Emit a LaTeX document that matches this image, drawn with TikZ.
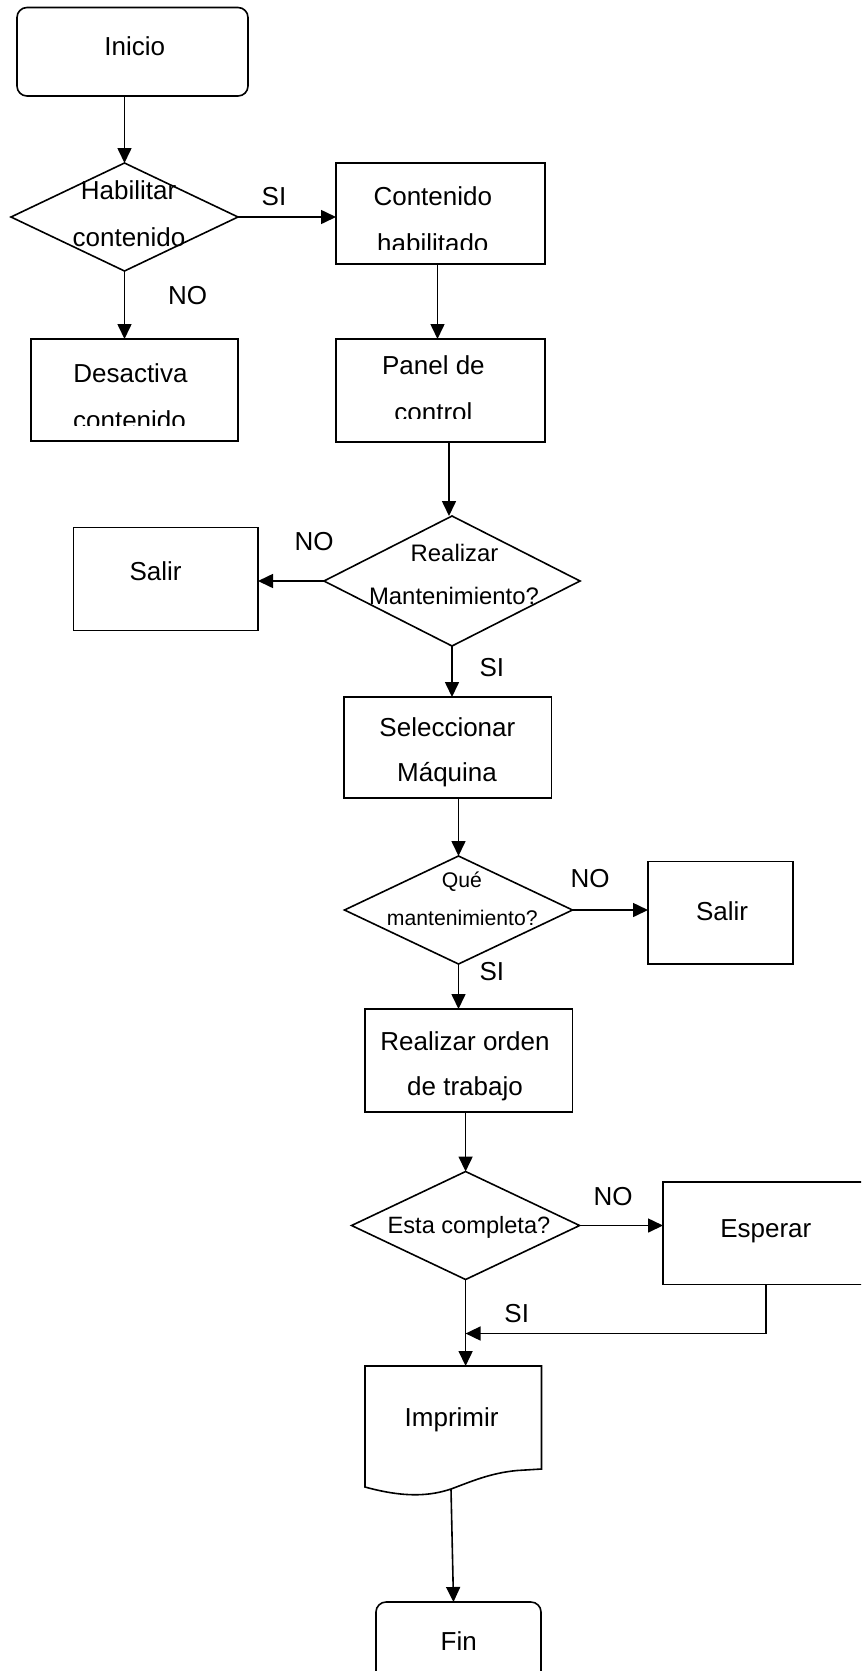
\documentclass[tikz,border=0pt]{standalone}
\usepackage{fontspec}
\setmainfont{Liberation Sans}
\usetikzlibrary{arrows.meta,shapes.geometric,calc}
\newdimen\px \px=0.75pt
\begin{document}
\begin{tikzpicture}[x=0.75pt,y=-0.75pt,
  flow/.style={line width=1.2pt, draw=black},
  arr/.style={flow, -{Triangle[length=11.25pt,width=10.5pt]}},
  proc/.style={draw, line width=1.2pt, rectangle, inner sep=0pt, outer sep=0pt},
  term/.style={proc, rounded corners=7.5pt},
  decis/.style={draw, line width=1.2pt, diamond, inner sep=0pt, outer sep=0pt},
  txt/.style={anchor=base, inner sep=0pt, font=\fontsize{19.5pt}{23pt}\selectfont},
  txtb/.style={txt, font=\fontsize{17.9pt}{21pt}\selectfont},
  txtc/.style={txt, font=\fontsize{15.9pt}{19pt}\selectfont},
  txtd/.style={txt, font=\fontsize{17.7pt}{21pt}\selectfont},
]
\useasboundingbox (0,0) rectangle (861,1671);
\clip (0,0) rectangle (861,1671);

% ---- shapes ----
\node[term, minimum width=231\px, minimum height=88.5\px] (inicio) at (132.5,51.75) {};
\node[decis, minimum width=227\px, minimum height=108\px] (d1) at (124.5,217) {};
\node[proc, minimum width=209\px, minimum height=101\px] (cont) at (440.5,213.5) {};
\node[proc, minimum width=207\px, minimum height=102\px] (desact) at (134.5,390) {};
\node[proc, minimum width=209\px, minimum height=103\px] (panel) at (440.5,390.5) {};
\node[decis, minimum width=256\px, minimum height=130\px] (d2) at (452,581) {};
\node[proc, minimum width=184.5\px, minimum height=103\px] (salir1) at (165.75,579) {};
\node[proc, minimum width=207.5\px, minimum height=101\px] (sel) at (447.75,747.5) {};
\node[decis, minimum width=228\px, minimum height=108\px] (d3) at (458.5,910) {};
\node[proc, minimum width=145\px, minimum height=102.5\px] (salir2) at (720.5,912.75) {};
\node[proc, minimum width=207.5\px, minimum height=103\px] (realizar) at (468.75,1060.5) {};
\node[decis, minimum width=228\px, minimum height=108\px] (d4) at (465.6,1225.5) {};
\node[proc, minimum width=206\px, minimum height=102.6\px] (esperar) at (766,1233) {};
\node[term, minimum width=165\px, minimum height=98\px] (fin) at (458.5,1651) {};

% document shape for printing
\coordinate (imp-nw) at (365,1366);
\coordinate (imp-out) at (451,1489);
\draw[flow, line join=miter] (imp-nw) -- (541.5,1366) -- (541.5,1469) -- (517,1470.5)
  .. controls (490,1473) and (470,1482) .. (imp-out)
  .. controls (430,1496) and (405,1498) .. (365,1487) -- cycle;

% ---- texts ----
\node[txt] (t-inicio) at (134.7,55) {Inicio};
\node[txt] (t-d1a) at (128.5,199.3) {Habilitar};
\node[txt] (t-d1b) at (129,246) {contenido};
\node[txt] (t-cont1) at (432.8,205) {Contenido};
\begin{scope}
  \clip (336,163) rectangle (545,249.5);
  \node[txt] (t-cont2) at (432.8,252) {habilitado};
\end{scope}
\node[txt] (t-des1) at (130.4,382) {Desactiva};
\begin{scope}
  \clip (31,339) rectangle (238,425.7);
  \node[txt] (t-des2) at (129.5,429) {contenido};
\end{scope}
\node[txt] (t-pan1) at (433.4,374) {Panel de};
\begin{scope}
  \clip (336,339) rectangle (545,418.3);
  \node[txt] (t-pan2) at (433.4,421) {control};
\end{scope}
\node[txtb] (t-d2a) at (454.5,561.7) {Realizar};
\node[txtb] (t-d2b) at (454,604) {Mantenimiento?};
\node[txt] (t-salir1) at (155.6,580.7) {Salir};
\node[txt] (t-sel1) at (447.4,736.7) {Seleccionar};
\node[txt] (t-sel2) at (447,781.7) {Máquina};
\node[txtc] (t-d3a) at (461.8,887.3) {Qué};
\node[txtc] (t-d3b) at (462.3,925) {mantenimiento?};
\node[txt] (t-salir2) at (722,920.7) {Salir};
\node[txt] (t-real1) at (465,1050) {Realizar orden};
\node[txt] (t-real2) at (465,1095) {de trabajo};
\node[txtd] (t-d4) at (469,1233.3) {Esta completa?};
\node[txt] (t-esp) at (765.8,1237.3) {Esperar};
\node[txt] (t-imp) at (451.6,1426.7) {Imprimir};
\node[txt] (t-fin) at (458.8,1650) {Fin};

% ---- branch labels ----
\node[txt] (l-si1) at (274,205) {SI};
\node[txt] (l-no1) at (187.5,304) {NO};
\node[txt] (l-no2) at (314,550) {NO};
\node[txt] (l-si2) at (491.8,676) {SI};
\node[txt] (l-no3) at (590,887.3) {NO};
\node[txt] (l-si3) at (491.8,980) {SI};
\node[txt] (l-no4) at (613,1205) {NO};
\node[txt] (l-si4) at (516.7,1322.7) {SI};

% ---- connectors ----
\draw[arr] (inicio.south -| d1.north) -- (d1.north);
\draw[arr] (d1.east) -- (d1.east -| cont.west);
\draw[arr] (d1.south) -- (d1.south |- desact.north);
\draw[arr] ($(cont.south)+(-3,0)$) -- ($(panel.north)+(-3,0)$);
\draw[arr] ($(d2.north |- panel.south)+(-3,0)$) -- ($(d2.north)+(-3,0)$);
\draw[arr] (d2.west) -- (d2.west -| salir1.east);
\draw[arr] (d2.south) -- (d2.south |- sel.north);
\draw[arr] (d3.north |- sel.south) -- (d3.north);
\draw[arr] (d3.east) -- (d3.east -| salir2.west);
\draw[arr] (d3.south) -- (d3.south |- realizar.north);
\draw[arr] (d4.north |- realizar.south) -- (d4.north);
\draw[arr] (d4.east) -- (d4.east -| esperar.west);
\draw[arr] (d4.south) -- (d4.south |- imp-nw);
\coordinate (merge) at ($(d4.south)+(0,54)$);
\draw[arr] (esperar.south) |- (merge);
\draw[arr] (imp-out) -- ($(fin.north)+(-5,0)$);
\end{tikzpicture}
\end{document}
